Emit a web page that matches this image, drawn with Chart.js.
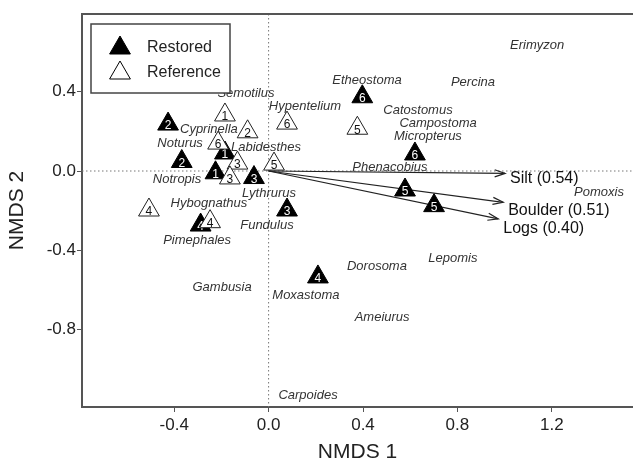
<!DOCTYPE html>
<html>
<head>
<meta charset="utf-8">
<style>
  html, body { margin: 0; padding: 0; background: #fff; }
  canvas { display: block; }
</style>
</head>
<body>
<canvas id="nmdsChart" width="633" height="463"></canvas>
<script src="https://cdn.jsdelivr.net/npm/chart.js"></script>
<script>
// site scores, number inside the triangle = site
const restoredX = [-0.426, -0.368, -0.185, -0.225, -0.062, -0.288, 0.078, 0.209, 0.397, 0.620, 0.578, 0.701];
const restoredY = [0.237, 0.048, 0.091, -0.009, -0.033, -0.273, -0.197, -0.535, 0.375, 0.086, -0.096, -0.175];
const restoredSite = ['2', '2', '1', '1', '3', '4', '3', '4', '6', '6', '5', '5'];

const referenceX = [-0.185, -0.089, -0.214, -0.132, -0.164, 0.023, 0.078, 0.376, -0.507, -0.248];
const referenceY = [0.283, 0.198, 0.141, 0.040, -0.035, 0.035, 0.242, 0.216, -0.197, -0.256];
const referenceSite = ['1', '2', '6', '3', '3', '5', '6', '5', '4', '4'];

// species scores
const speciesNames = ['Erimyzon', 'Etheostoma', 'Percina', 'Semotilus', 'Hypentelium', 'Catostomus',
  'Campostoma', 'Micropterus', 'Labidesthes', 'Cyprinella', 'Noturus', 'Phenacobius', 'Notropis',
  'Lythrurus', 'Hybognathus', 'Fundulus', 'Pimephales', 'Pomoxis', 'Lepomis', 'Dorosoma',
  'Gambusia', 'Moxastoma', 'Ameiurus', 'Carpoides'];
const speciesX = [1.138, 0.417, 0.866, -0.096, 0.154, 0.633, 0.718, 0.675, -0.011, -0.253, -0.375, 0.514,
  -0.388, 0.002, -0.253, -0.007, -0.303, 1.400, 0.781, 0.459, -0.197, 0.158, 0.481, 0.167];
const speciesY = [0.636, 0.460, 0.449, 0.394, 0.328, 0.308, 0.242, 0.177, 0.121, 0.212, 0.141, 0.020,
  -0.040, -0.111, -0.162, -0.273, -0.348, -0.106, -0.439, -0.480, -0.586, -0.626, -0.737, -1.131];

// habitat vectors (r in parentheses)
const vectorNames = ['Silt (0.54)', 'Boulder (0.51)', 'Logs (0.40)'];
const vectorX = [1.002, 0.994, 0.973];
const vectorY = [-0.012, -0.158, -0.242];

const xTicks = [-0.4, 0.0, 0.4, 0.8, 1.2];
const yTicks = [-0.8, -0.4, 0.0, 0.4];

const axisColor = '#555';
const fontFamily = '"Liberation Sans", Arial, sans-serif';

const toPoints = (xs, ys) => xs.map((x, i) => ({ x: x, y: ys[i] }));

// dotted zero lines, vectors and species names under the triangles
const underlay = {
  id: 'underlay',
  beforeDatasetsDraw(chart) {
    const ctx = chart.ctx;
    const a = chart.chartArea;
    const sx = chart.scales.x, sy = chart.scales.y;
    const x0 = sx.getPixelForValue(0), y0 = sy.getPixelForValue(0);
    ctx.save();
    ctx.strokeStyle = '#777';
    ctx.lineWidth = 1;
    ctx.setLineDash([1.5, 2.5]);
    ctx.beginPath();
    ctx.moveTo(a.left, y0); ctx.lineTo(a.right, y0);
    ctx.moveTo(x0, a.top); ctx.lineTo(x0, a.bottom);
    ctx.stroke();
    ctx.setLineDash([]);

    // species
    ctx.fillStyle = '#333';
    ctx.font = 'italic 13px ' + fontFamily;
    ctx.textAlign = 'center';
    ctx.textBaseline = 'middle';
    speciesNames.forEach((n, i) => {
      ctx.fillText(n, sx.getPixelForValue(speciesX[i]), sy.getPixelForValue(speciesY[i]));
    });

    // vectors
    ctx.strokeStyle = '#222';
    ctx.fillStyle = '#111';
    ctx.lineWidth = 1.2;
    ctx.font = '16px ' + fontFamily;
    ctx.textAlign = 'left';
    vectorNames.forEach((n, i) => {
      const x1 = sx.getPixelForValue(vectorX[i]);
      const y1 = sy.getPixelForValue(vectorY[i]);
      const ang = Math.atan2(y1 - y0, x1 - x0);
      ctx.beginPath();
      ctx.moveTo(x0, y0); ctx.lineTo(x1, y1);
      ctx.stroke();
      const L = 11, s = 0.33;
      ctx.beginPath();
      ctx.moveTo(x1 - L * Math.cos(ang - s), y1 - L * Math.sin(ang - s));
      ctx.lineTo(x1, y1);
      ctx.lineTo(x1 - L * Math.cos(ang + s), y1 - L * Math.sin(ang + s));
      ctx.stroke();
      ctx.fillText(n, x1 + 5, y1 + 5 + 25 * Math.sin(ang));
    });
    ctx.restore();
  }
};

// site number inside each triangle, drawn right after its own dataset
const siteNumbers = {
  id: 'siteNumbers',
  afterDatasetDraw(chart, args) {
    const ds = chart.data.datasets[args.index];
    const ctx = chart.ctx;
    ctx.save();
    ctx.font = '12px ' + fontFamily;
    ctx.textAlign = 'center';
    ctx.textBaseline = 'middle';
    ctx.fillStyle = ds.numberColor;
    args.meta.data.forEach((pt, i) => {
      ctx.fillText(ds.sites[i], pt.x, pt.y + 2);
    });
    ctx.restore();
  }
};

// top frame line and the legend box
const frame = {
  id: 'frame',
  afterDraw(chart) {
    const ctx = chart.ctx;
    const a = chart.chartArea;
    ctx.save();
    ctx.strokeStyle = axisColor;
    ctx.lineWidth = 2;
    ctx.beginPath();
    ctx.moveTo(a.left - 1, a.top); ctx.lineTo(chart.width, a.top);
    ctx.stroke();

    const bx = a.left + 9, by = a.top + 10, bw = 139, bh = 69;
    ctx.fillStyle = '#fff';
    ctx.fillRect(bx, by, bw, bh);
    ctx.strokeStyle = '#444';
    ctx.lineWidth = 1.5;
    ctx.strokeRect(bx, by, bw, bh);

    const items = [
      { label: 'Restored', fill: '#000' },
      { label: 'Reference', fill: '#fff' }
    ];
    items.forEach((it, i) => {
      const cx = bx + 29, cy = by + 24 + i * 25;
      const r = 12;
      ctx.beginPath();
      ctx.moveTo(cx, cy - r);
      ctx.lineTo(cx + r * 0.866, cy + r / 2);
      ctx.lineTo(cx - r * 0.866, cy + r / 2);
      ctx.closePath();
      ctx.fillStyle = it.fill;
      ctx.fill();
      ctx.strokeStyle = '#000';
      ctx.lineWidth = 1;
      ctx.stroke();
      ctx.fillStyle = '#222';
      ctx.font = '16px ' + fontFamily;
      ctx.textAlign = 'left';
      ctx.textBaseline = 'middle';
      ctx.fillText(it.label, bx + 56, cy);
    });
    ctx.restore();
  }
};

const ctx = document.getElementById('nmdsChart').getContext('2d');
new Chart(ctx, {
  type: 'scatter',
  data: {
    datasets: [
      {
        label: 'Reference',
        data: toPoints(referenceX, referenceY),
        sites: referenceSite,
        numberColor: '#111',
        pointStyle: 'triangle',
        pointRadius: 12,
        pointHoverRadius: 12,
        backgroundColor: '#fff',
        borderColor: '#222',
        borderWidth: 1,
        order: 1
      },
      {
        label: 'Restored',
        data: toPoints(restoredX, restoredY),
        sites: restoredSite,
        numberColor: '#fff',
        pointStyle: 'triangle',
        pointRadius: 12,
        pointHoverRadius: 12,
        backgroundColor: '#000',
        borderColor: '#000',
        borderWidth: 1,
        order: 2
      }
    ]
  },
  options: {
    responsive: false,
    animation: false,
    events: [],
    layout: { autoPadding: false, padding: { top: 14, right: 0, left: 0, bottom: 0 } },
    plugins: {
      legend: { display: false },
      tooltip: { enabled: false }
    },
    scales: {
      x: {
        type: 'linear',
        min: -0.7907,
        max: 1.544,
        afterBuildTicks: s => { s.ticks = xTicks.map(v => ({ value: v })); },
        afterFit: s => { s.height = 56; },
        border: { display: true, color: axisColor, width: 2 },
        grid: { display: true, drawOnChartArea: false, drawTicks: true, tickLength: 5, color: axisColor, lineWidth: 1 },
        ticks: {
          color: '#222',
          padding: 3,
          maxRotation: 0,
          font: { family: fontFamily, size: 17 },
          callback: v => v.toFixed(1)
        },
        title: {
          display: true,
          text: 'NMDS 1',
          color: '#222',
          padding: 0,
          font: { family: fontFamily, size: 21, lineHeight: 1 }
        }
      },
      y: {
        type: 'linear',
        min: -1.192,
        max: 0.793,
        afterBuildTicks: s => { s.ticks = yTicks.map(v => ({ value: v })); },
        afterFit: s => { s.width = 82; },
        border: { display: true, color: axisColor, width: 2 },
        grid: { display: true, drawOnChartArea: false, drawTicks: true, tickLength: 5, color: axisColor, lineWidth: 1 },
        ticks: {
          color: '#222',
          padding: 1,
          font: { family: fontFamily, size: 17 },
          callback: v => v.toFixed(1)
        },
        title: {
          display: true,
          text: 'NMDS 2',
          color: '#222',
          padding: { top: 7, bottom: 0 },
          font: { family: fontFamily, size: 21, lineHeight: 1 }
        }
      }
    }
  },
  plugins: [underlay, siteNumbers, frame]
});
</script>
</body>
</html>
